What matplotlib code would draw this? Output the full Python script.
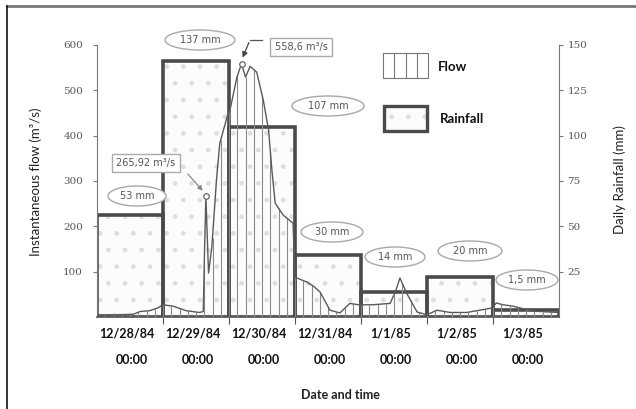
import numpy as np
import matplotlib
matplotlib.use("Agg")
import matplotlib.pyplot as plt
from matplotlib.patches import Rectangle, Ellipse
from matplotlib.lines import Line2D

# ---------------- data ----------------
days = ["12/28/84", "12/29/84", "12/30/84", "12/31/84", "1/1/85", "1/2/85", "1/3/85"]
day_times = ["00:00"] * 7
rain_mm = [56, 141, 105, 34, 14, 22, 4]           # drawn bar heights (mm)
rain_labels = ["53 mm", "137 mm", "107 mm", "30 mm", "14 mm", "20 mm", "1,5 mm"]

flow_t = [0.0, 0.3, 0.55, 0.65, 0.8, 0.92, 1.0, 1.15, 1.35, 1.55, 1.61, 1.63, 1.65,
          1.67, 1.69, 1.74, 1.81, 1.86, 1.97, 2.02, 2.12, 2.19, 2.25, 2.32, 2.42,
          2.52, 2.60, 2.65, 2.70, 2.82, 2.97, 3.0, 3.18, 3.28, 3.38, 3.53, 3.68,
          3.83, 3.96, 4.18, 4.44, 4.52, 4.59, 4.69, 4.85, 5.0, 5.15, 5.35, 5.6,
          5.8, 5.99, 6.05, 6.15, 6.3, 6.6, 7.0]
flow_q = [5, 5, 6, 12, 14, 20, 27, 24, 14, 10, 12, 150, 265.92,
          180, 97, 154, 302, 383, 441, 460, 529, 558.6, 529, 553, 540,
          478, 412, 324, 251, 225, 207, 88, 77, 68, 55, 15, 9,
          30, 27, 27, 30, 55, 86, 53, 11, 5, 15, 10, 10,
          15, 20, 31, 27, 24, 13, 10]

W, H = 636, 409
fig = plt.figure(figsize=(W / 100, H / 100), dpi=100)
fig.patch.set_facecolor("white")

def fx(x):
    return x / W

def fy(y):
    return 1 - y / H

ax = fig.add_axes([fx(97), fy(317), fx(559) - fx(97), fy(45) - fy(317)])
ax2 = ax.twinx()
ax.set_zorder(ax2.get_zorder() + 1)
ax.patch.set_visible(False)

# ---------------- rainfall bars ----------------
x_days = np.arange(len(days))
ax2.bar(x_days, rain_mm, width=1.0, align="edge", color="#fcfcfc",
        edgecolor="#dedede", hatch=".", linewidth=0, zorder=1)
ax2.bar(x_days, rain_mm, width=1.0, align="edge", fill=False,
        edgecolor="#4a4a4a", linewidth=2.6, zorder=2)
ax2.set_ylim(0, 150)
ax2.set_yticks([25, 50, 75, 100, 125, 150])

# ---------------- flow ----------------
ft = np.array(flow_t)
fq = np.array(flow_q)
vt = np.arange(0.125, 7.0, 0.125)
ax.vlines(vt, 0, np.interp(vt, ft, fq), colors="#8a8a8a", linewidth=0.8, zorder=3)
ax.plot(ft, fq, color="#5a5a5a", linewidth=1.0, zorder=4)
ipk1 = int(np.argmax(np.where(ft < 1.8, fq, 0)))
ipk2 = int(np.argmax(fq))
ax.plot([ft[ipk1], ft[ipk2]], [fq[ipk1], fq[ipk2]], "o", ms=4, mfc="white",
        mec="#666666", mew=0.9, zorder=5)

ax.set_xlim(0, 7)
ax.set_ylim(0, 600)
ax.set_yticks([100, 200, 300, 400, 500, 600])

# spines
for a in (ax, ax2):
    a.spines["top"].set_visible(False)
ax.spines["right"].set_visible(False)
ax2.spines["left"].set_visible(False)
ax.spines["left"].set_color("#777777")
ax2.spines["right"].set_color("#777777")
ax.spines["bottom"].set_color("#555555")
ax2.spines["bottom"].set_visible(False)
ax.spines["bottom"].set_linewidth(1.2)

ax.tick_params(axis="y", length=3, color="#777777", labelcolor="#555555", pad=7)
ax2.tick_params(axis="y", length=3, color="#777777", labelcolor="#555555", pad=3)
for lab in ax.get_yticklabels() + ax2.get_yticklabels():
    lab.set_fontfamily("DejaVu Serif")
    lab.set_fontsize(7.5)

ax.set_xticks(np.arange(1, 7))
ax.set_xticklabels([])
ax.set_xticks(np.arange(0.25, 7, 0.25), minor=True)
ax.tick_params(axis="x", which="major", length=5, direction="out", color="#555555")
ax.tick_params(axis="x", which="minor", length=3, direction="in", color="#888888")

# date labels
for i in range(len(days)):
    xd = ax.transData.transform((i + 0.45, 0))[0]
    fig.text(xd / W, fy(334), days[i], ha="center", va="center",
             fontsize=9, fontweight="bold", family="Lato", color="#111111")
    fig.text(xd / W + 0.008, fy(360), day_times[i], ha="center", va="center",
             fontsize=9, fontweight="bold", family="Lato", color="#111111")

fig.text(fx(340), fy(395), "Date and time", ha="center", va="center",
         fontsize=9, fontweight="bold", family="Lato", color="#222222")
fig.text(fx(36), fy(182), "Instantaneous flow (m³/s)", rotation=90,
         ha="center", va="center", fontsize=9.5, family="Lato", color="#222222")
fig.text(fx(620), fy(180), "Daily Rainfall (mm)", rotation=90,
         ha="center", va="center", fontsize=9.5, family="Lato", color="#222222")

# ellipse labels
ell_pos = [(137, 196, 58), (200, 40, 70), (328, 106, 72), (332, 232, 62),
           (395, 257, 60), (470, 251, 64), (527, 280, 62)]
for (cx, cy, w), txt in zip(ell_pos, rain_labels):
    e = Ellipse((fx(cx), fy(cy)), fx(w), 20 / H, transform=fig.transFigure,
                facecolor="white", edgecolor="#a8a8a8", linewidth=1.0, zorder=10)
    fig.add_artist(e)
    fig.text(fx(cx), fy(cy), txt, ha="center", va="center", fontsize=7,
             family="DejaVu Sans", color="#555555", zorder=11)

# peak boxes and arrows
box = dict(boxstyle="square,pad=0.45", facecolor="white", edgecolor="#aaaaaa", linewidth=1.0)
fig.text(fx(146), fy(163), "265,92 m³/s", ha="center", va="center", fontsize=7,
         color="#555555", bbox=box, zorder=11)
fig.text(fx(301), fy(47), "558,6 m³/s", ha="center", va="center", fontsize=7,
         color="#555555", bbox=box, zorder=11)
ax.annotate("", xy=(ft[ipk1] - 0.02, fq[ipk1] + 8), xytext=(fx(186), fy(172)),
            textcoords="figure fraction",
            arrowprops=dict(arrowstyle="-|>", color="#888888", lw=0.9,
                            mutation_scale=7), zorder=12)
fig.add_artist(Line2D([fx(262), fx(250)], [fy(40), fy(40)], color="#555555",
                      lw=0.9, transform=fig.transFigure))
ax.annotate("", xy=(ft[ipk2], fq[ipk2] + 8), xytext=(fx(250), fy(40)),
            textcoords="figure fraction",
            arrowprops=dict(arrowstyle="-|>", color="#444444", lw=0.9,
                            mutation_scale=8), zorder=12)

# legend
fig.add_artist(Rectangle((fx(383), fy(78)), fx(45), 25 / H, transform=fig.transFigure,
                         facecolor="white", edgecolor="#777777", linewidth=0.8))
for k in range(1, 4):
    xk = 383 + k * 45 / 4
    fig.add_artist(Line2D([fx(xk), fx(xk)], [fy(78), fy(53)], color="#777777",
                          lw=0.8, transform=fig.transFigure))
fig.text(fx(438), fy(67), "Flow", ha="left", va="center", fontsize=9.5,
         fontweight="bold", family="Lato", color="#111111")
fig.add_artist(Rectangle((fx(384), fy(131)), fx(43), 25 / H, transform=fig.transFigure,
                         facecolor="#fcfcfc", edgecolor="#dedede", hatch=".",
                         linewidth=0))
fig.add_artist(Rectangle((fx(384), fy(131)), fx(43), 25 / H, transform=fig.transFigure,
                         fill=False, edgecolor="#4a4a4a", linewidth=2.4))
fig.text(fx(440), fy(119), "Rainfall", ha="left", va="center", fontsize=9.5,
         fontweight="bold", family="Lato", color="#111111")

# outer frame
fig.add_artist(Line2D([fx(7), 1], [fy(6), fy(6)], color="#777777", lw=2,
                      transform=fig.transFigure))
fig.add_artist(Line2D([fx(7), fx(7)], [fy(6), 0], color="#111111", lw=1.2,
                      transform=fig.transFigure))

fig.savefig("out.png", dpi=100, facecolor="white")
